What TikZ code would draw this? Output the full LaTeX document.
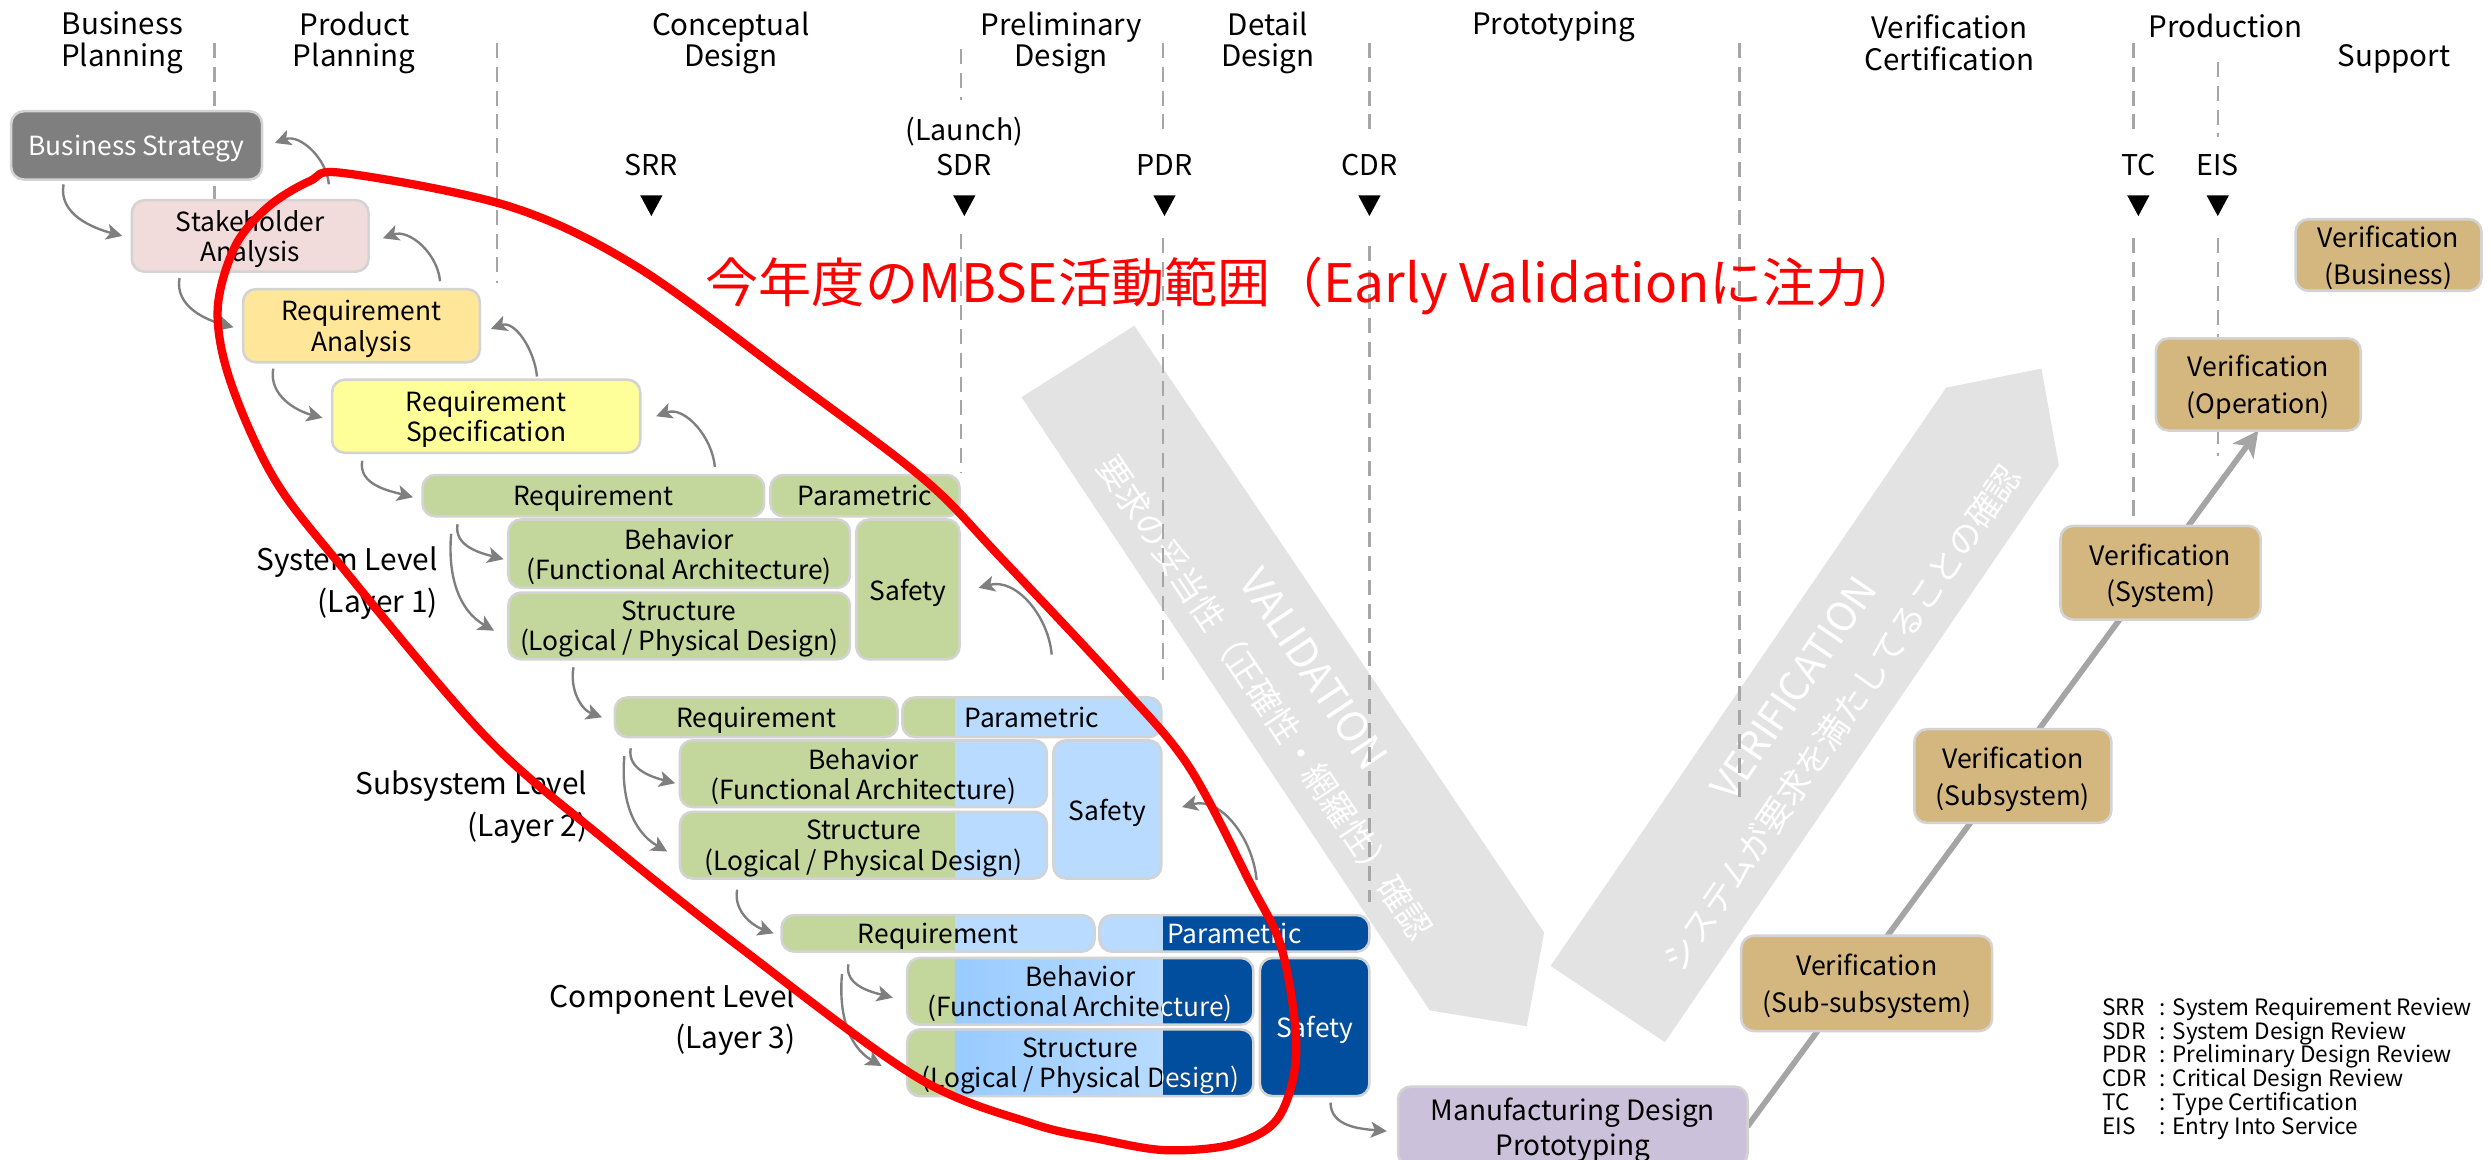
\documentclass[tikz,border=0pt]{standalone}
\usepackage{fontspec}
\setmainfont{Noto Sans CJK JP}
\usetikzlibrary{arrows.meta,calc}
\pgfdeclarelayer{back}
\pgfdeclarelayer{mid}
\pgfsetlayers{back,mid,main}

\definecolor{bsgray}{HTML}{7F7F7F}
\definecolor{shpink}{HTML}{F2DCDB}
\definecolor{raorange}{HTML}{FFE699}
\definecolor{rsyellow}{HTML}{FFFF99}
\definecolor{modgreen}{HTML}{C3D69B}
\definecolor{lightblue}{HTML}{B8DBFF}
\definecolor{midblue}{HTML}{99CBFF}
\definecolor{darkblue}{HTML}{004E9D}
\definecolor{mfgpurple}{HTML}{CCC1DA}
\definecolor{vertan}{HTML}{D4B77F}
\definecolor{edgegray}{HTML}{D3D3D3}
\definecolor{dashgray}{HTML}{A6A6A6}
\definecolor{conngray}{HTML}{7F7F7F}
\definecolor{vgray}{HTML}{E3E3E3}
\definecolor{diaggray}{HTML}{A5A5A5}

% fill several colour zones inside one rounded box outline
\newcommand\paintzones[5]{%
  \begin{scope}
    \clip[rounded corners=4pt] (#1,#2) rectangle (#3,#4);
    #5
  \end{scope}}

\begin{document}
\begin{tikzpicture}[x=0.5pt, y=-0.5pt,
  span/.style n args={4}{at={({(#1+#3)/2},{(#2+#4)/2})},
    minimum width={(#3-#1)*0.5pt}, minimum height={(#4-#2)*0.5pt}},
  boxbase/.style={draw=edgegray, line width=0.8pt, rounded corners=4pt, inner sep=0pt,
    outer sep=0pt, align=center, text=black, text depth=0pt, font=\fontsize{8.3}{9.5}\selectfont},
  vbox/.style={boxbase, fill=vertan, font=\fontsize{8.4}{11.5}\selectfont},
  hdr/.style={align=center, inner sep=0pt, font=\fontsize{9.3}{10}\selectfont},
  lvl/.style={align=right, anchor=east, inner sep=0pt, font=\fontsize{9.4}{13}\selectfont},
  mstone/.style={inner sep=0pt, font=\fontsize{9}{11}\selectfont},
  legendline/.style={anchor=base west, inner sep=0pt, font=\fontsize{7.1}{7.5}\selectfont},
  conn/.style={draw=conngray, line width=0.75pt, -{Stealth[length=5pt,width=5pt,inset=1.2pt]}},
  phaseline/.style={draw=dashgray, line width=0.7pt, dash pattern=on 4.75pt off 2.75pt},
  arrowtext/.style={text=white, inner sep=0pt},
]
\useasboundingbox (0,0) rectangle (1568,730);

% ---------- broad V-model arrows ----------
\begin{pgfonlayer}{back}
  \fill[vgray] (643,250) -- (714,205) -- (972,587) -- (961,646) -- (900,636) -- cycle;
  \fill[vgray] (976,608) -- (1225,244) -- (1285,232) -- (1296,293) -- (1048,656) -- cycle;
  \node[arrowtext, rotate=-56.3, font=\fontsize{13}{13}\selectfont] (valen) at (827,421) {VALIDATION};
  \node[arrowtext, rotate=-56.3, font=\fontsize{10.6}{11}\selectfont] (valjp) at (796,439) {要求の妥当性（正確性・網羅性）確認};
  \node[arrowtext, rotate=55.6, font=\fontsize{12.6}{13}\selectfont] (veren) at (1129,433) {VERIFICATION};
  \node[arrowtext, rotate=55.6, font=\fontsize{10.6}{11}\selectfont] (verjp) at (1159,452) {システムが要求を満たしてることの確認};
\end{pgfonlayer}

% ---------- phase separators ----------
\begin{pgfonlayer}{mid}
  \draw[phaseline] (135,27) -- (135,126);
  \draw[phaseline] (313,27) -- (313,178);
  \draw[phaseline] (605,31) -- (605,63);
  \draw[phaseline] (605,147) -- (605,298);
  \draw[phaseline] (732,27) -- (732,86);
  \draw[phaseline] (732,150) -- (732,428);
  \draw[phaseline] (862,27) -- (862,86);
  \draw[phaseline] (862,155) -- (862,568);
  \draw[phaseline] (1095,27) -- (1095,503);
  \draw[phaseline] (1343,27) -- (1343,86);
  \draw[phaseline] (1343,150) -- (1343,325);
  \draw[phaseline] (1396,39) -- (1396,86);
  \draw[phaseline] (1396,150) -- (1396,287);
\end{pgfonlayer}

% ---------- phase headers ----------
\node[hdr] (hbp) at (77,27) {Business\\Planning};
\node[hdr] (hpp) at (223,27) {Product\\Planning};
\node[hdr] (hcd) at (460,27) {Conceptual\\Design};
\node[hdr] (hpd) at (668,27) {Preliminary\\Design};
\node[hdr] (hdd) at (798,27) {Detail\\Design};
\node[hdr] (hpt) at (978,17) {Prototyping};
\node[hdr] (hvc) at (1227,27) {Verification\\Certification};
\node[hdr] (hpr) at (1401,16) {Production};
\node[hdr] (hsp) at (1507,37) {Support};

% ---------- milestones ----------
\node[mstone] (msrr) at (410,104) {SRR};
\node[mstone] (mlaunch) at (607,83) {(Launch)};
\node[mstone] (msdr) at (607,104) {SDR};
\node[mstone] (mpdr) at (733,104) {PDR};
\node[mstone] (mcdr) at (862,104) {CDR};
\node[mstone] (mtc) at (1346,104) {TC};
\node[mstone] (meis) at (1396,104) {EIS};
\foreach \mx in {410,607,733,862,1346,1396}
  \fill[black] (\mx-7,123) -- (\mx+7,123) -- (\mx,136) -- cycle;

% ---------- planning chain ----------
\node[boxbase, fill=bsgray, text=white, span={7}{70}{165}{113}] (bs) {Business Strategy};
\node[boxbase, fill=shpink, span={83}{126}{232}{171}] (sh) {Stakeholder\\Analysis};
\node[boxbase, fill=raorange, span={153}{182}{302}{228}] (ra) {Requirement\\Analysis};
\node[boxbase, fill=rsyellow, span={209}{239}{403}{285}] (rs) {Requirement\\Specification};

% ---------- system level ----------
\node[boxbase, fill=modgreen, span={266}{299}{481}{325}] (sreq) {Requirement};
\node[boxbase, fill=modgreen, span={485}{299}{604}{325}] (spar) {Parametric};
\node[boxbase, fill=modgreen, span={320}{327}{535}{370}] (sbeh) {Behavior\\(Functional Architecture)};
\node[boxbase, fill=modgreen, span={320}{373}{535}{415}] (sstr) {Structure\\(Logical / Physical Design)};
\node[boxbase, fill=modgreen, span={539}{327}{604}{415}] (ssaf) {Safety};
\node[lvl] (lv1) at (276,367) {System Level\\(Layer 1)};

% ---------- subsystem level ----------
\node[boxbase, fill=modgreen, span={387}{439}{565}{464}] (subreq) {Requirement};
\paintzones{568}{439}{731}{464}{%
  \fill[modgreen] (568,439) rectangle (601,464);
  \fill[lightblue] (601,439) rectangle (731,464);}
\node[boxbase, span={568}{439}{731}{464}] (subpar) {Parametric};
\paintzones{428}{466}{659}{508}{%
  \fill[modgreen] (428,466) rectangle (601,508);
  \fill[lightblue] (601,466) rectangle (659,508);}
\node[boxbase, span={428}{466}{659}{508}] (subbeh) {Behavior\\(Functional Architecture)};
\paintzones{428}{511}{659}{553}{%
  \fill[modgreen] (428,511) rectangle (601,553);
  \fill[lightblue] (601,511) rectangle (659,553);}
\node[boxbase, span={428}{511}{659}{553}] (substr) {Structure\\(Logical / Physical Design)};
\node[boxbase, fill=lightblue, span={663}{466}{731}{553}] (subsaf) {Safety};
\node[lvl] (lv2) at (370,508) {Subsystem Level\\(Layer 2)};

% ---------- component level ----------
\paintzones{492}{576}{689}{599}{%
  \fill[modgreen] (492,576) rectangle (601,599);
  \fill[lightblue] (601,576) rectangle (689,599);}
\node[boxbase, span={492}{576}{689}{599}] (creq) {Requirement};
\paintzones{692}{576}{862}{599}{%
  \fill[lightblue] (692,576) rectangle (732,599);
  \fill[darkblue] (732,576) rectangle (862,599);}
\node[boxbase, text=white, span={692}{576}{862}{599}] (cpar) {Parametric};
\paintzones{571}{603}{789}{645}{%
  \fill[modgreen] (571,603) rectangle (601,645);
  \shade[left color=midblue, right color=lightblue] (601,603) rectangle (732,645);
  \fill[darkblue] (732,603) rectangle (789,645);}
\node[boxbase, span={571}{603}{789}{645}] (cbeh) {Behavior\\(Functional Architecture)};
\begin{scope}
  \clip (732,600) rectangle (792,648);
  \node[boxbase, draw=none, text=white, span={571}{603}{789}{645}] (cbehw) {Behavior\\(Functional Architecture)};
\end{scope}
\paintzones{571}{648}{789}{690}{%
  \fill[modgreen] (571,648) rectangle (601,690);
  \shade[left color=midblue, right color=lightblue] (601,648) rectangle (732,690);
  \fill[darkblue] (732,648) rectangle (789,690);}
\node[boxbase, span={571}{648}{789}{690}] (cstr) {Structure\\(Logical / Physical Design)};
\begin{scope}
  \clip (732,645) rectangle (792,693);
  \node[boxbase, draw=none, text=white, span={571}{648}{789}{690}] (cstrw) {Structure\\(Logical / Physical Design)};
\end{scope}
\node[boxbase, fill=darkblue, text=white, span={793}{603}{862}{690}] (csaf) {Safety};
\node[lvl] (lv3) at (501,642) {Component Level\\(Layer 3)};

% ---------- manufacturing and verification ----------
\node[boxbase, fill=mfgpurple, font=\fontsize{8.8}{11}\selectfont, span={880}{684}{1100}{734}] (mfg) {Manufacturing Design\\Prototyping};
\node[vbox, span={1096}{589}{1254}{649}] (vss) {Verification\\(Sub-subsystem)};
\node[vbox, span={1205}{459}{1329}{518}] (vsub) {Verification\\(Subsystem)};
\node[vbox, span={1297}{331}{1423}{390}] (vsys) {Verification\\(System)};
\node[vbox, span={1357}{213}{1486}{271}] (vop) {Verification\\(Operation)};
\node[vbox, span={1445}{138}{1562}{183}] (vbus) {Verification\\(Business)};

\begin{pgfonlayer}{mid}
  \draw[draw=diaggray, line width=1.8pt, -{Stealth[length=8pt,width=8pt,inset=2pt]}] (mfg.east) -- (vop.south);
\end{pgfonlayer}

% ---------- downward flow ----------
\draw[conn] ($(bs.south west)+(33,3)$) to[out=-100,in=165] ($(sh.west)+(-6,0)$);
\draw[conn] ($(sh.south west)+(30,4)$) to[out=-100,in=165] ($(ra.west)+(-6,1)$);
\draw[conn] ($(ra.south west)+(19,4)$) to[out=-100,in=165] ($(rs.west)+(-6,1)$);
\draw[conn] ($(rs.south west)+(19,5)$) to[out=-100,in=165] ($(sreq.west)+(-6,1)$);
\draw[conn] ($(sreq.south west)+(22,5)$) to[out=-100,in=165] ($(sbeh.west)+(-3,3.5)$);
\draw[conn] ($(sreq.south west)+(18,11)$) to[out=-95,in=150] ($(sstr.west)+(-9,3)$);
\draw[conn] ($(sstr.south west)+(41,5)$) to[out=-100,in=160] ($(subreq.west)+(-8,0)$);
\draw[conn] ($(subreq.south west)+(10,7)$) to[out=-100,in=165] ($(subbeh.west)+(-3,6)$);
\draw[conn] ($(subreq.south west)+(6,12)$) to[out=-95,in=150] ($(substr.west)+(-8,4)$);
\draw[conn] ($(substr.south west)+(36,7)$) to[out=-100,in=160] ($(creq.west)+(-5,0)$);
\draw[conn] ($(creq.south west)+(42,8)$) to[out=-100,in=165] ($(cbeh.west)+(-9,4)$);
\draw[conn] ($(creq.south west)+(38,14)$) to[out=-95,in=150] ($(cstr.west)+(-16,2)$);
\draw[conn] ($(csaf.south)+(10,4)$) to[out=-90,in=175] ($(mfg.west)+(-7,3)$);

% ---------- feedback flow ----------
\draw[conn] ($(sh.north east)+(-25,-10)$) to[out=95,in=20] ($(bs.east)+(8,-1.5)$);
\draw[conn] ($(ra.north east)+(-25,-5)$) to[out=95,in=20] ($(sh.east)+(9,1.5)$);
\draw[conn] ($(rs.north east)+(-65,-2)$) to[out=95,in=20] ($(ra.east)+(7,2)$);
\draw[conn] ($(sreq.north east)+(-31,-5)$) to[out=95,in=20] ($(rs.east)+(10,0)$);
\draw[conn] ($(subpar.north east)+(-69,-27)$) to[out=95,in=15] ($(ssaf.east)+(12,-1)$);
\draw[conn] ($(cpar.north)+(14,-22)$) to[out=95,in=15] ($(subsaf.east)+(13,-1.5)$);

% ---------- legend ----------
\node[legendline] (lgsrr) at (1323,639) {\makebox[18pt][l]{SRR}: System Requirement Review};
\node[legendline] (lgsdr) at (1323,654) {\makebox[18pt][l]{SDR}: System Design Review};
\node[legendline] (lgpdr) at (1323,669) {\makebox[18pt][l]{PDR}: Preliminary Design Review};
\node[legendline] (lgcdr) at (1323,684) {\makebox[18pt][l]{CDR}: Critical Design Review};
\node[legendline] (lgtc) at (1323,699) {\makebox[18pt][l]{TC}: Type Certification};
\node[legendline] (lgeis) at (1323,714) {\makebox[18pt][l]{EIS}: Entry Into Service};

% ---------- MBSE scope of this year ----------
\draw[red, line width=2.6pt] plot[smooth cycle, tension=0.55] coordinates {
  (217,109) (321,130) (401,168) (500,240) (582,302) (629,350) (704,430) (748,482)
  (787,556) (807,598) (816,661) (805,703) (777,720) (734,724) (692,717) (649,707)
  (577,678) (468,598) (380,528) (306,464) (217,359) (173,302) (145,240) (137,195)
  (148,155) (169,130) (195,114)};
\node[text=red, inner sep=0pt, font=\fontsize{16.7}{20}\selectfont] (focus) at (827,180)
  {今年度のMBSE活動範囲（Early Validationに注力）};
\end{tikzpicture}
\end{document}
